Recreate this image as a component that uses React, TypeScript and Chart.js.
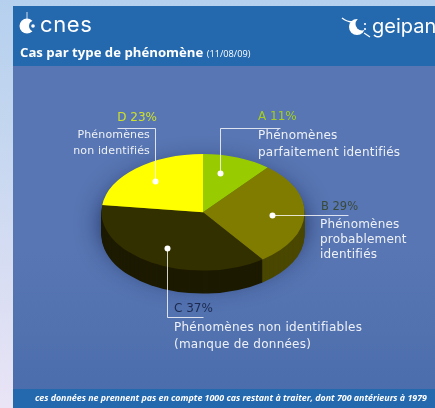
import React, { useEffect, useRef } from "react";
import { Chart, registerables } from "chart.js";

Chart.register(...registerables);

const categories = ["A", "B", "C", "D"];
const shares = [11, 29, 37, 23];
const topColours = ["#99cc00", "#807c00", "#333000", "#ffff00"];
const sideColours = ["#5c7a00", "#4a4700", "#1c1a00", "#8a8a00"];

const W = 435, H = 408;
const SQUASH = 0.574, DEPTH = 23, CY = 212.3, RADIUS = 101.5;

const leaders = [
  { dot: [220, 173], path: [[220, 173], [220, 128], [280, 128]] },
  { dot: [155, 181], path: [[155, 181], [155, 128], [117, 128]] },
  { dot: [272, 215], path: [[272, 215], [348, 215]] },
  { dot: [167, 248], path: [[167, 248], [167, 317], [203, 317]] },
];

const pie3d = {
  id: "pie3d",
  beforeDatasetsDraw(chart: any) {
    const ctx = chart.ctx;
    const arcs = chart.getDatasetMeta(0).data;
    const cy0 = arcs[0].y;
    ctx.save();
    const apply = (dy: number) => {
      ctx.setTransform(1, 0, 0, SQUASH, 0, CY + dy - cy0 * SQUASH);
    };
    ctx.save();
    ctx.shadowColor = "rgba(15,25,70,0.9)";
    ctx.shadowBlur = 26;
    apply(DEPTH / 2);
    ctx.fillStyle = "#1c1a00";
    ctx.beginPath();
    ctx.arc(arcs[0].x, cy0, RADIUS - 1, 0, Math.PI * 2);
    ctx.fill();
    ctx.restore();
    for (let d = DEPTH; d >= 1; d--) {
      apply(d);
      arcs.forEach((arc: any, i: number) => {
        const o = arc.options;
        arc.options = Object.assign({}, o, { backgroundColor: sideColours[i] });
        arc.draw(ctx);
        arc.options = o;
      });
    }
    apply(0);
  },
  afterDatasetsDraw(chart: any) {
    const ctx = chart.ctx;
    ctx.restore();
    ctx.setTransform(1, 0, 0, 1, 0, 0);
    ctx.strokeStyle = "rgba(255,255,255,0.8)";
    ctx.fillStyle = "#ffffff";
    ctx.lineWidth = 1;
    leaders.forEach((l) => {
      ctx.beginPath();
      l.path.forEach(([x, y], i) => (i ? ctx.lineTo(x + 0.5, y + 0.5) : ctx.moveTo(x + 0.5, y + 0.5)));
      ctx.stroke();
      ctx.beginPath();
      ctx.arc(l.dot[0] + 0.5, l.dot[1] + 0.5, 3, 0, Math.PI * 2);
      ctx.fill();
    });
  },
};

const labelFont = "'DejaVu Sans', sans-serif";
const textBlocks: { t: string; x: number; y: number; c: string; right?: boolean; s?: number; ls?: number }[] = [
  { t: "A 11%", x: 258, y: 121, c: "#a4cf1e", ls: 0 },
  { t: "Phénomènes", x: 258, y: 140, c: "#eef1f6", ls: 0.2 },
  { t: "parfaitement identifiés", x: 258, y: 157, c: "#eef1f6", ls: 0.22 },
  { t: "D 23%", x: 157, y: 122, c: "#cfe02a", right: true, ls: 0 },
  { t: "Phénomènes", x: 150, y: 140, c: "#eef1f6", right: true, s: 11, ls: 0.15 },
  { t: "non identifiés", x: 150, y: 156, c: "#eef1f6", right: true, s: 11, ls: 0.15 },
  { t: "B 29%", x: 321, y: 211, c: "#3a4a3a", s: 11.5, ls: 0 },
  { t: "Phénomènes", x: 320, y: 229, c: "#eef1f6", ls: 0.2 },
  { t: "probablement", x: 320, y: 244, c: "#eef1f6", ls: 0.2 },
  { t: "identifiés", x: 320, y: 259, c: "#eef1f6", ls: 0.2 },
  { t: "C 37%", x: 174, y: 313, c: "#1c2a50", ls: 0 },
  { t: "Phénomènes non identifiables", x: 174, y: 332, c: "#eef1f6", ls: 0.25 },
  { t: "(manque de données)", x: 174, y: 349, c: "#eef1f6", ls: 0.25 },
];

const abs = (s: React.CSSProperties): React.CSSProperties => ({ position: "absolute", whiteSpace: "nowrap", ...s });
const BAND = "#2468ae";

export default function App() {
  const ref = useRef<HTMLCanvasElement>(null);
  useEffect(() => {
    const chart = new Chart(ref.current!, {
      type: "pie",
      data: {
        labels: categories,
        datasets: [{ data: shares, backgroundColor: topColours, borderWidth: 0, radius: RADIUS }],
      },
      options: {
        responsive: false,
        animation: false,
        layout: { padding: { right: 29 } },
        plugins: { legend: { display: false }, tooltip: { enabled: false } },
      },
      plugins: [pie3d],
    } as any);
    return () => chart.destroy();
  }, []);

  return (
    <div style={{ position: "fixed", left: 0, top: 0, width: W, height: H, overflow: "hidden", background: "linear-gradient(180deg,#b5d0ee 0%,#c8d8f0 40%,#eae4f6 100%)" }}>
      <div style={{ position: "absolute", inset: 0, filter: "blur(0.45px)" }}>
        <div style={{ position: "absolute", left: 13, top: 6, width: W - 13 + 4, height: H - 6 + 4, background: "linear-gradient(180deg,#5876b3 0%,#5876b3 60%,#4a6cab 100%)" }} />
        <div style={{ position: "absolute", left: 13, top: 6, width: W - 13 + 4, height: 60, background: BAND }} />
        <div style={{ position: "absolute", left: 13, top: 389, width: W - 13 + 4, height: 23, background: BAND }} />
        <canvas ref={ref} width={W} height={H} style={{ position: "absolute", left: 0, top: 0, width: W, height: H, display: "block" }} />

        <svg width={W} height={H} style={{ position: "absolute", left: 0, top: 0 }}>
          <path d="M27 12 L27 20" stroke="#fff" strokeWidth="0.8" />
          <circle cx="27" cy="26" r="7.5" fill="#fff" />
          <circle cx="34.5" cy="26" r="5.5" fill={BAND} />
          <circle cx="33" cy="26" r="1.8" fill="#fff" />
          <circle cx="357" cy="27" r="8" fill="#fff" />
          <circle cx="362" cy="24" r="6.5" fill={BAND} />
          <path d="M342 18 Q347 22 353 22" stroke="#fff" strokeWidth="1.4" fill="none" />
          <path d="M364 33 L370 37" stroke="#fff" strokeWidth="1.2" />
          <circle cx="365" cy="24" r="1.1" fill="#fff" />
          <circle cx="365" cy="29" r="1.1" fill="#fff" />
        </svg>

        <div style={abs({ left: 40, top: 11, font: `400 22px Inter, sans-serif`, letterSpacing: 0.6, color: "#fff", lineHeight: "26px" })}>cnes</div>
        <div style={abs({ left: 372, top: 13, font: `400 20px Inter, sans-serif`, color: "#fff", lineHeight: "26px" })}>geipan</div>
        <div style={abs({ left: 20, top: 43, font: `700 13.2px 'Open Sans', sans-serif`, color: "#fff", lineHeight: "18px" })}>
          Cas par type de phénomène <span style={{ fontWeight: 400, fontSize: 9.2 }}>(11/08/09)</span>
        </div>
        {textBlocks.map((b) => (
          <div key={b.t + b.x + b.y} style={abs({
            ...(b.right ? { right: W - b.x } : { left: b.x }),
            top: b.y - 13, font: `400 ${b.s ?? 12}px ${labelFont}`, letterSpacing: b.ls ?? 0, lineHeight: "16px", color: b.c,
          })}>{b.t}</div>
        ))}
        <div style={abs({ left: 35, top: 391, font: `italic 700 8.85px 'Open Sans', sans-serif`, color: "#fff", lineHeight: "14px" })}>
          ces données ne prennent pas en compte 1000 cas restant à traiter, dont 700 antérieurs à 1979
        </div>
      </div>
    </div>
  );
}
